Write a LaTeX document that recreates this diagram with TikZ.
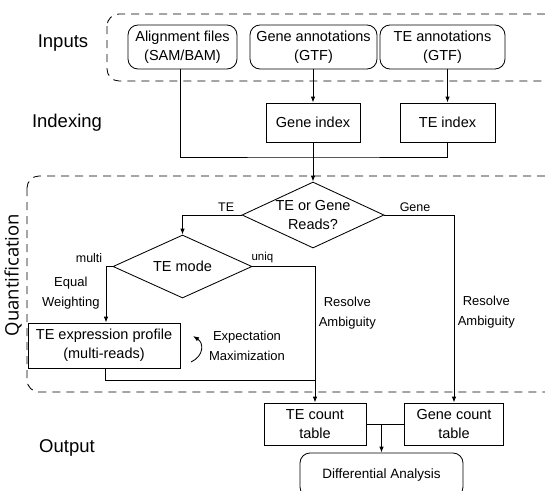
\documentclass[tikz,border=0pt]{standalone}
\usepackage{fontspec}
\setmainfont{Liberation Sans}
\newfontfamily\quantfont{Open Sans}
\usepackage{tikz}
\usetikzlibrary{arrows.meta, positioning, shapes.geometric, calc}

\begin{document}
\begin{tikzpicture}[
    x=1pt, y=-1pt,
    line width=0.85pt,
    >={Latex[length=6pt, width=4.5pt]},
    box/.style={draw, inner sep=0pt, align=center, font=\fontsize{14.5}{19}\selectfont},
    rbox/.style={box, rounded corners=10pt},
    decision/.style={draw, diamond, inner sep=0pt, align=center, font=\fontsize{14.5}{19}\selectfont},
    stage/.style={font=\fontsize{18.5}{22}\selectfont},
    lbl/.style={font=\fontsize{12.5}{14}\selectfont},
    note/.style={align=center, font=\fontsize{13}{20}\selectfont},
    region/.style={draw, dash pattern=on 8pt off 6pt, rounded corners=12pt}
]
    \clip (0,0) rectangle (545,490);

    % --- stages ---
    \node[stage] (inputs) at (63,43) {Inputs};
    \node[stage] (indexing) at (67,123) {Indexing};
    \node[stage] (output) at (67,448) {Output};
    \node[stage, rotate=90, font=\quantfont\fontsize{18.5}{22}\selectfont] (quant) at (13,275) {Quantification};

    % --- dashed regions ---
    \draw[region] (107,14) rectangle (560,81);
    \draw[region] (27,176) rectangle (560,392);

    % --- inputs ---
    \node[rbox, minimum width=109pt, minimum height=44pt] (align) at (182.5,47) {Alignment files\\(SAM/BAM)};
    \node[rbox, minimum width=127pt, minimum height=44pt] (geneann) at (313.5,47) {Gene annotations\\(GTF)};
    \node[rbox, minimum width=125pt, minimum height=44pt] (teann) at (442.5,47) {TE annotations\\(GTF)};

    % --- indexing ---
    \node[box, minimum width=94pt, minimum height=39pt] (geneidx) at (313,122.5) {Gene index};
    \node[box, minimum width=95pt, minimum height=39pt] (teidx) at (447.5,122.5) {TE index};

    % --- quantification ---
    \node[decision, minimum width=142pt, minimum height=66pt, aspect=2.15] (reads) at (313,215) {TE or Gene\\Reads?};
    \node[decision, minimum width=139pt, minimum height=63pt, aspect=2.2] (temode) at (182.5,266.5) {TE mode};
    \node[box, minimum width=152pt, minimum height=45pt] (profile) at (104,345.5) {TE expression profile\\(multi-reads)};
    \node[note] (em) at (247,346) {Expectation\\Maximization};

    % --- output ---
    \node[box, minimum width=102pt, minimum height=42pt] (tecount) at (315,424) {TE count\\table};
    \node[box, minimum width=99pt, minimum height=42pt] (genecount) at (454,424) {Gene count\\table};
    \node[rbox, minimum width=163pt, minimum height=44pt, font=\fontsize{13.5}{16}\selectfont] (diff) at (381.5,475) {Differential Analysis};

    % --- connectors ---
    \coordinate (join) at (313,157);
    \coordinate (merge) at (315,380);
    \draw[->] (geneidx.north |- geneann.south) -- (geneidx.north);
    \draw[->] (teidx.north |- teann.south) -- (teidx.north);
    \draw ([xshift=-2pt]align.south) |- (join) -| (teidx.south);
    \draw[->] (geneidx.south) -- (reads.north);
    \draw[->] (reads.west) -| (temode.north)
        node[lbl, above, pos=0.13] {TE};
    \draw[->] (reads.east) -| (genecount.north)
        node[lbl, above, pos=0.22] {Gene}
        node[note, right, pos=0.76] {Resolve\\Ambiguity};
    \draw[->] (temode.west) -| ([xshift=2pt]profile.north)
        node[lbl, above left, pos=0.5] {multi}
        node[note, left, pos=0.74, inner sep=6pt] {Equal\\Weighting};
    \draw[->] (temode.east) -| (tecount.north)
        node[lbl, above, pos=0.08, font=\fontsize{11.5}{14}\selectfont] {uniq}
        node[note, right, pos=0.67] {Resolve\\Ambiguity};
    \draw ([xshift=1pt]profile.south) |- (merge);
    \draw (tecount.east) -- (genecount.west);
    \draw[->] (diff.north |- tecount.east) -- (diff.north);

    % EM loop
    \coordinate (embot) at (191,362);
    \coordinate (emtop) at (193,336);
    \draw[->] (embot) .. controls (204,356) and (204,343) .. (emtop);
\end{tikzpicture}
\end{document}
